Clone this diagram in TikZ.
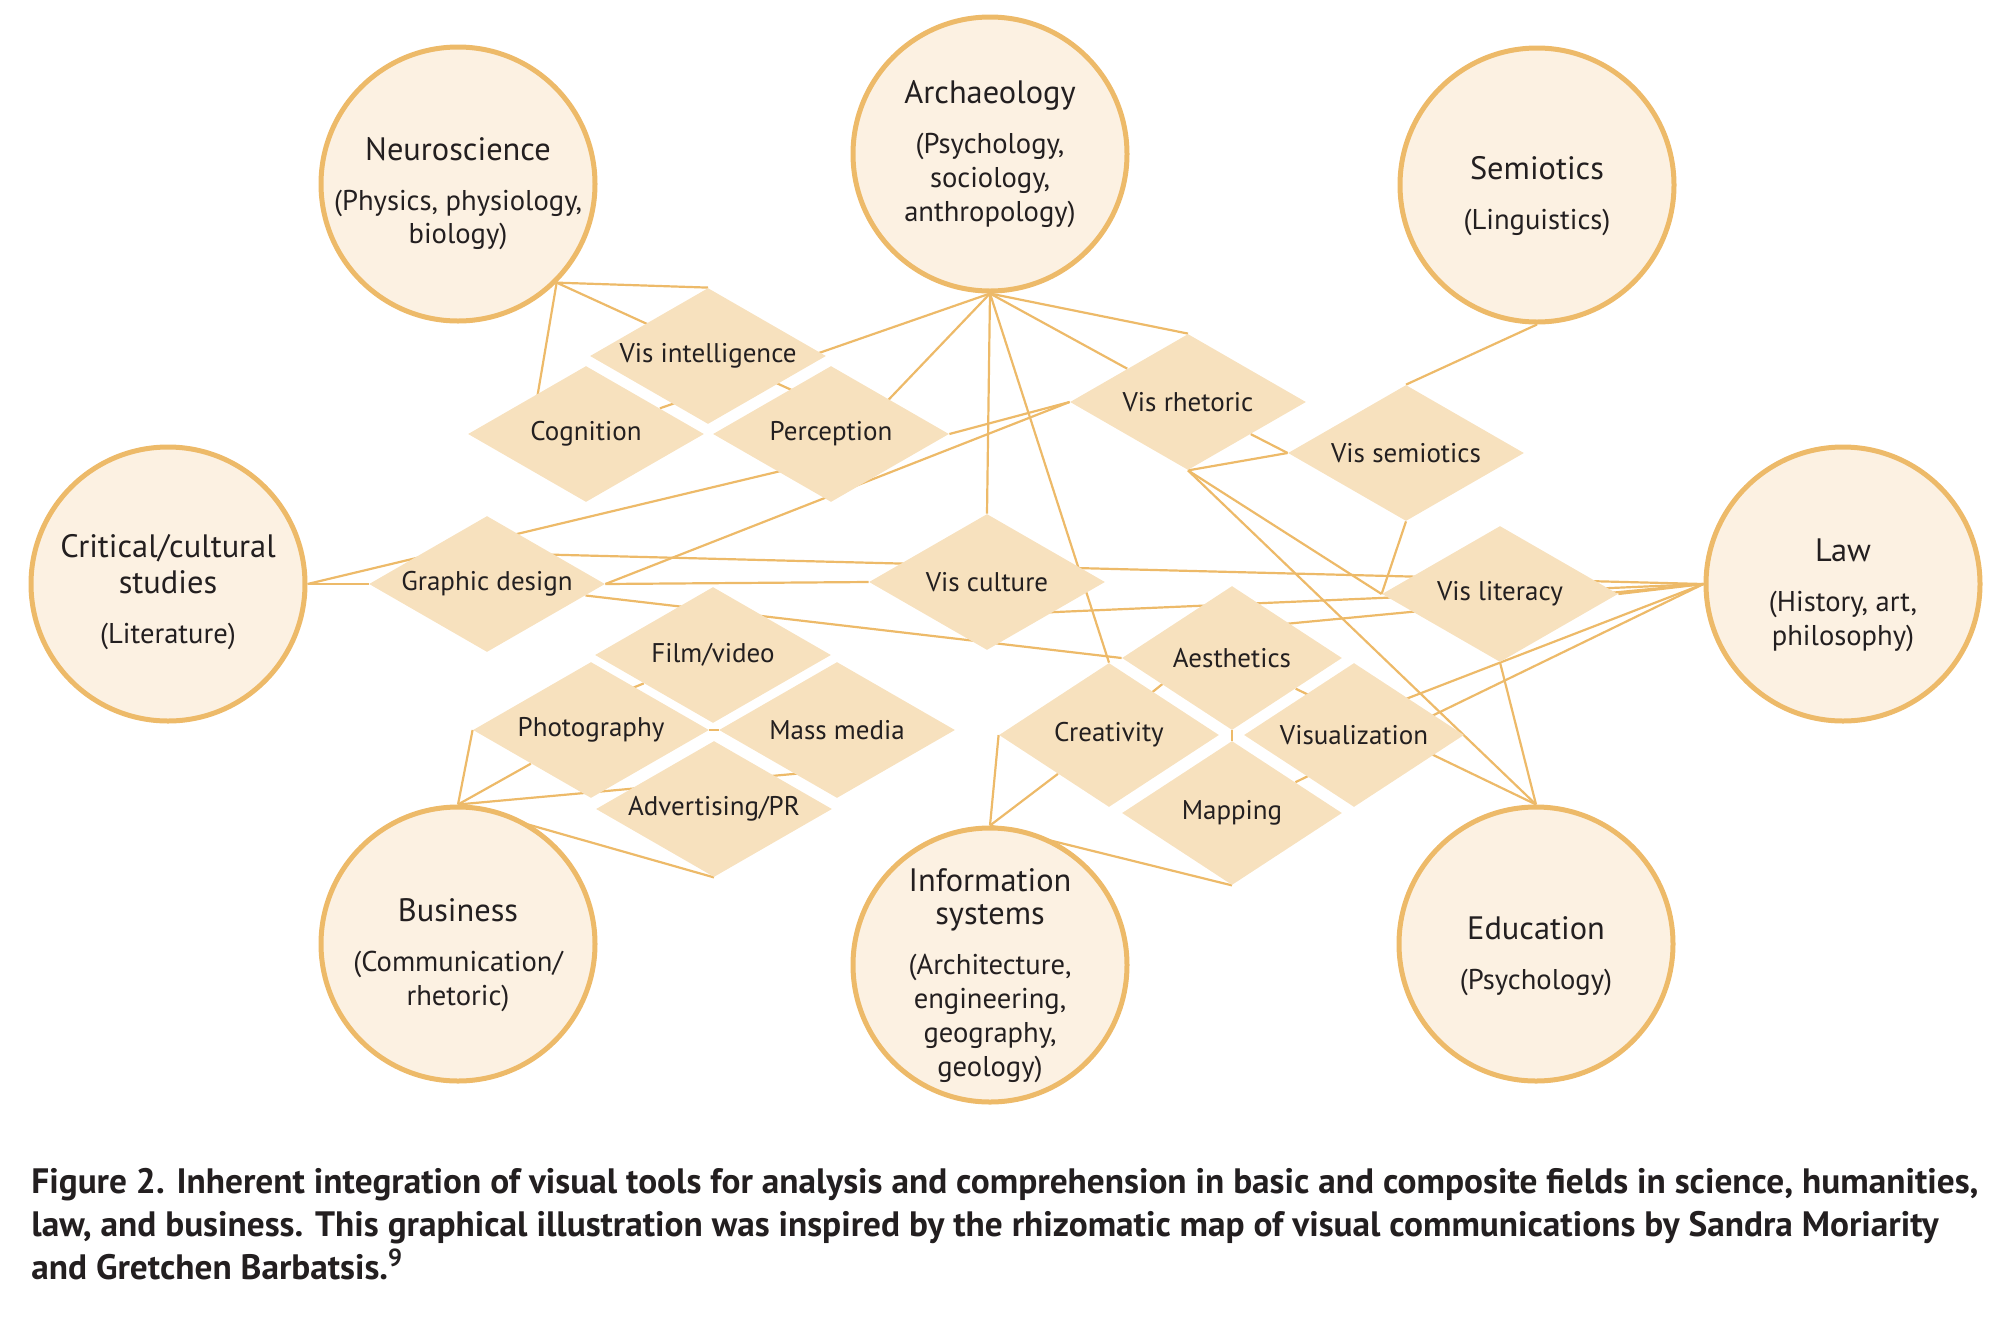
\documentclass[tikz,border=0pt]{standalone}
\usepackage{fontspec}
\setmainfont{PT Sans}
\usetikzlibrary{shapes,backgrounds,calc}
\definecolor{rim}{HTML}{EDBA69}
\definecolor{disc}{HTML}{FCF1E2}
\definecolor{tan}{HTML}{F7E1BE}
\definecolor{ink}{HTML}{231F20}
\newcommand{\fieldsub}[1]{{\fontsize{14.3}{17}\selectfont #1}}
\newcommand{\fieldtop}[1][22.5pt]{\rule{0pt}{#1}}
\tikzstyle{field} = [circle, draw=rim, line width=2.5pt, fill=disc, minimum size=137pt, inner sep=-8pt, align=center, text=ink, font=\fontsize{16.2}{18}\selectfont]
\tikzstyle{tool} = [diamond, fill=tan, minimum width=118pt, minimum height=68pt, shape aspect=1.7, inner sep=0pt, text=ink, font=\fontsize{13.5}{16}\selectfont]
\tikzstyle{craft} = [tool, minimum width=110pt, minimum height=72pt, shape aspect=1.5]
\tikzstyle{link} = [draw=rim, line width=1.1pt]
\tikzstyle{caption} = [anchor=base west, align=left, inner sep=0pt, text=ink, font=\fontsize{17.65}{21.3}\selectfont\bfseries]
\begin{document}
\begin{tikzpicture}[x=0.5pt, y=-0.5pt]
\useasboundingbox (0,0) rectangle (1998,1318);

\node [field] (neuro) at (458,184) {\fieldtop[21pt]Neuroscience\\[7pt]\fieldsub{(Physics, physiology,}\\[-1.5pt]\fieldsub{biology)}};
\node [field] (arch) at (990,154) {Archaeology\\[7pt]\fieldsub{(Psychology,}\\[-1pt]\fieldsub{sociology,}\\[-1pt]\fieldsub{anthropology)}};
\node [field] (semio) at (1537,185) {\fieldtop Semiotics\\[7pt]\fieldsub{(Linguistics)}};
\node [field] (crit) at (168,584) {\fieldtop[19.5pt]Critical/cultural\\studies\\[7pt]\fieldsub{(Literature)}};
\node [field] (law) at (1843,584) {\fieldtop Law\\[7pt]\fieldsub{(History, art,}\\[-1pt]\fieldsub{philosophy)}};
\node [field] (biz) at (458,944) {\fieldtop Business\\[7pt]\fieldsub{(Communication/}\\[-1pt]\fieldsub{rhetoric)}};
\node [field] (infosys) at (990,965) {\fieldtop Information\\[-1.5pt]systems\\[7pt]\fieldsub{(Architecture,}\\[-1pt]\fieldsub{engineering,}\\[-1pt]\fieldsub{geography,}\\[-1pt]\fieldsub{geology)}};
\node [field] (edu) at (1536,944) {\fieldtop[24pt]Education\\[7pt]\fieldsub{(Psychology)}};

\node [tool] (visint) at (708,356) {Vis intelligence};
\node [tool] (cogn) at (586,434) {Cognition};
\node [tool] (perc) at (831,434) {Perception};
\node [tool] (visrhet) at (1188,402) {Vis rhetoric};
\node [tool] (vissem) at (1406,453) {Vis semiotics};
\node [tool] (graph) at (487,584) {Graphic design};
\node [tool] (visclt) at (987,582) {Vis culture};
\node [tool] (vislit) at (1500,594) {Vis literacy};
\node [tool] (film) at (713,655) {Film/video};
\node [tool] (photo) at (591,730) {Photography};
\node [tool] (massm) at (837,730) {Mass media};
\node [tool] (advert) at (714,809) {Advertising/PR};
\node [craft] (aesth) at (1232,658) {Aesthetics};
\node [craft] (creat) at (1109,735) {Creativity};
\node [craft] (visual) at (1354,735) {Visualization};
\node [craft] (mapping) at (1232,813) {Mapping};

\begin{scope}[on background layer]
\draw [link] (neuro.-45) -- (visint.north);
\draw [link] (neuro.-45) -- ($(perc)+(0,-26)$);
\draw [link] (neuro.-45) -- ($(cogn)+(-55,0)$);
\draw [link] (arch.south) -- (cogn);
\draw [link] (arch.south) -- ($(perc)+(0,26)$);
\draw [link] (arch.south) -- (visclt.north);
\draw [link] (arch.south) -- (creat.north);
\draw [link] (arch.south) -- (visrhet);
\draw [link] (arch.south) -- (visrhet.north);
\draw [link] (perc.east) -- (visrhet.west);
\draw [link] (graph.east) -- (visrhet.west);
\draw [link] (crit.east) -- (graph.west);
\draw [link] (crit.east) -- ($(perc)+(0,25)$);
\draw [link] (graph.east) -- (visclt.west);
\draw [link] ($(graph)+(0,-31)$) -- (law.west);
\draw [link] (graph) -- (aesth.west);
\draw [link] ($(visclt)+(0,33)$) -- (law.west);
\draw [link] ($(aesth)+(0,-29)$) -- (law.west);
\draw [link] (vislit.east) -- (law.west);
\draw [link] (law.west) -- ($(visual)+(0,-16)$);
\draw [link] (law.west) -- (mapping);
\draw [link] (visrhet) -- (vissem.west);
\draw [link] (visrhet.south) -- (vissem.west);
\draw [link] (visrhet.south) -- (vislit.west);
\draw [link] (visrhet.south) -- (edu.north);
\draw [link] (vissem.north) -- (semio.south);
\draw [link] (vissem.south) -- (vislit.west);
\draw [link] (vislit.south) -- (edu.north);
\draw [link] (edu.north) -- (aesth);
\draw [link] (aesth) -- (mapping);
\draw [link] ($(creat)+(0,-8)$) -- ($(aesth)+(0,-30)$);
\draw [link] (infosys.north) -- (creat.west);
\draw [link] (infosys.north) -- (creat);
\draw [link] (infosys.north) -- (mapping.south);
\draw [link] (biz.north) -- (photo.west);
\draw [link] (biz.north) -- (photo);
\draw [link] (biz.north) -- ($(massm)+(0,40)$);
\draw [link] (biz.north) -- (advert.south);
\draw [link] (photo.east) -- (massm.west);
\draw [link] ($(photo)+(0,-25)$) -- (film);
\end{scope}

\node [caption] (cap) at (31,1279) {Figure 2. Inherent integration of visual tools for analysis and comprehension in basic and composite fields in science, humanities,\\law, and business. This graphical illustration was inspired by the rhizomatic map of visual communications by Sandra Moriarity\\and Gretchen Barbatsis.\textsuperscript{9}};

\end{tikzpicture}
\end{document}
